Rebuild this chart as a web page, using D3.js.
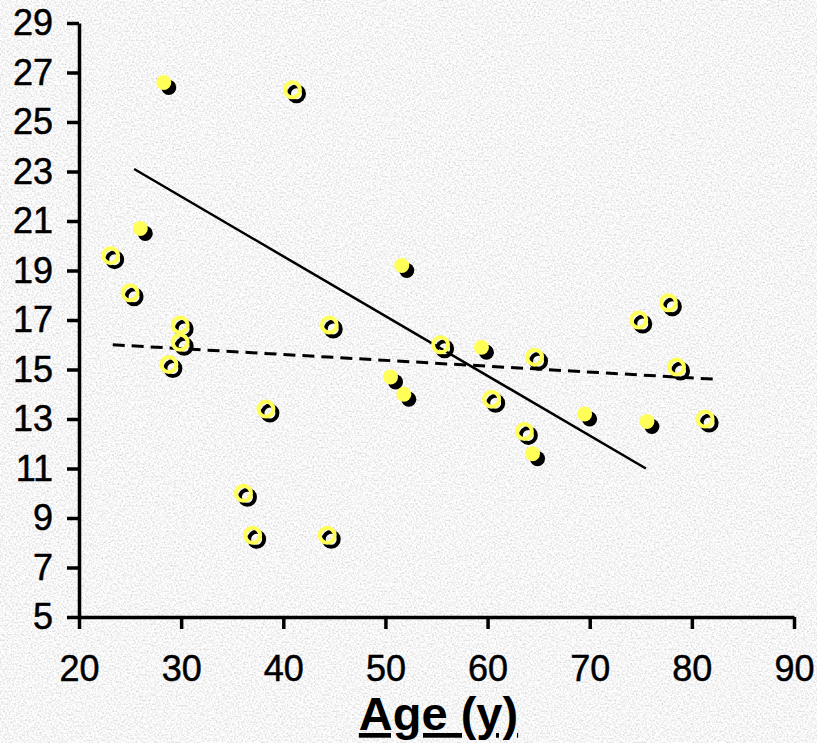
<!DOCTYPE html>
<html>
<head>
<meta charset="utf-8">
<script src="https://cdn.jsdelivr.net/npm/d3@7"></script>
<style>
  body { margin: 0; background: #e2e2e2; }
  svg { display: block; font-family: "Liberation Sans", Arial, sans-serif; }
</style>
</head>
<body>
<svg width="817" height="743"></svg>
<script>
// Filled markers
const filledAge = [28.3, 26.0, 51.6, 50.5, 51.8, 59.4, 64.4, 69.5, 75.6];
const filledVal = [26.6, 20.7, 19.2, 14.7, 14.0, 15.9, 11.6, 13.2, 12.9];

// Open markers
const openAge = [40.9, 23.1, 25.0, 29.9, 29.9, 28.8, 38.3, 36.1, 37.0, 44.3,
  44.5, 55.4, 64.6, 60.4, 63.6, 77.7, 74.8, 78.5, 81.3];
const openVal = [26.3, 19.6, 18.1, 16.8, 16.1, 15.2, 13.4, 10.0, 8.3, 8.3,
  16.8, 16.0, 15.5, 13.8, 12.5, 17.7, 17.0, 15.1, 13.0];

// Trend lines (end points)
const solidLineAge = [25.4, 75.5];
const solidLineVal = [23.1, 11.0];
const dashedLineAge = [23.3, 82.6];
const dashedLineVal = [16.0, 14.6];

// Ticks
const xTicks = [20, 30, 40, 50, 60, 70, 80, 90];
const yTicks = [5, 7, 9, 11, 13, 15, 17, 19, 21, 23, 25, 27, 29];
const xTitle = "Age (y)";

const width = 817;
const height = 743;
const svg = d3.select("svg");

// textured grey backdrop
const defs = svg.append("defs");
const tex = defs.append("filter").attr("id", "tex")
  .attr("x", 0).attr("y", 0).attr("width", "100%").attr("height", "100%");
tex.append("feTurbulence").attr("type", "fractalNoise")
  .attr("baseFrequency", 0.55).attr("numOctaves", 2).attr("seed", 7);
tex.append("feColorMatrix").attr("type", "matrix")
  .attr("values", "0.7 0 0 0 0.57  0.7 0 0 0 0.57  0.7 0 0 0 0.57  0 0 0 0 1");
svg.append("rect").attr("width", width).attr("height", height)
  .attr("filter", "url(#tex)");

const x = d3.scaleLinear().domain([20, 90]).range([79, 794]);
const y = d3.scaleLinear().domain([5, 29]).range([617, 23]);

const xAxis = svg.append("g")
  .attr("transform", "translate(0," + y(5) + ")")
  .call(d3.axisBottom(x).tickValues(xTicks).tickSize(12).tickSizeOuter(0).tickPadding(26));

const yAxis = svg.append("g")
  .attr("transform", "translate(" + x(20) + ",0)")
  .call(d3.axisLeft(y).tickValues(yTicks).tickSize(12).tickSizeOuter(0).tickPadding(14));

[xAxis, yAxis].forEach((g) => {
  g.select(".domain").attr("stroke", "#000").attr("stroke-width", 3.5);
  g.selectAll(".tick line").attr("stroke", "#000").attr("stroke-width", 3.5);
  g.selectAll(".tick text")
    .attr("fill", "#000")
    .attr("stroke", "#000")
    .attr("stroke-width", 0.5)
    .style("font-size", "36px")
    .style("font-family", "'Liberation Sans', Arial, sans-serif");
});

// trend lines
const line = d3.line().x((d) => x(d[0])).y((d) => y(d[1]));

svg.append("path")
  .datum(d3.zip(solidLineAge, solidLineVal))
  .attr("d", line)
  .attr("fill", "none")
  .attr("stroke", "#000")
  .attr("stroke-width", 2.5);

svg.append("path")
  .datum(d3.zip(dashedLineAge, dashedLineVal))
  .attr("d", line)
  .attr("fill", "none")
  .attr("stroke", "#000")
  .attr("stroke-width", 3)
  .attr("stroke-dasharray", "12,7");

const yellow = "#ffff57";

// open markers: black ring shadow, yellow ring on top
const openPts = d3.zip(openAge, openVal);
svg.append("g").selectAll("circle")
  .data(openPts).enter().append("circle")
  .attr("cx", (d) => x(d[0]) + 4)
  .attr("cy", (d) => y(d[1]) + 4)
  .attr("r", 7.5)
  .attr("fill", "none")
  .attr("stroke", "#000")
  .attr("stroke-width", 4);
svg.append("g").selectAll("circle")
  .data(openPts).enter().append("circle")
  .attr("cx", (d) => x(d[0]))
  .attr("cy", (d) => y(d[1]))
  .attr("r", 7.5)
  .attr("fill", "none")
  .attr("stroke", yellow)
  .attr("stroke-width", 4);

// filled markers
const filledPts = d3.zip(filledAge, filledVal);
svg.append("g").selectAll("circle")
  .data(filledPts).enter().append("circle")
  .attr("cx", (d) => x(d[0]) + 5)
  .attr("cy", (d) => y(d[1]) + 5)
  .attr("r", 7.5)
  .attr("fill", "#000");
svg.append("g").selectAll("circle")
  .data(filledPts).enter().append("circle")
  .attr("cx", (d) => x(d[0]))
  .attr("cy", (d) => y(d[1]))
  .attr("r", 7.5)
  .attr("fill", yellow);

// axis title
svg.append("text")
  .attr("x", (x(20) + x(90)) / 2 + 2)
  .attr("y", 730)
  .attr("text-anchor", "middle")
  .attr("font-size", 47)
  .attr("font-weight", "bold")
  .attr("text-decoration", "underline")
  .text(xTitle);
</script>
</body>
</html>
